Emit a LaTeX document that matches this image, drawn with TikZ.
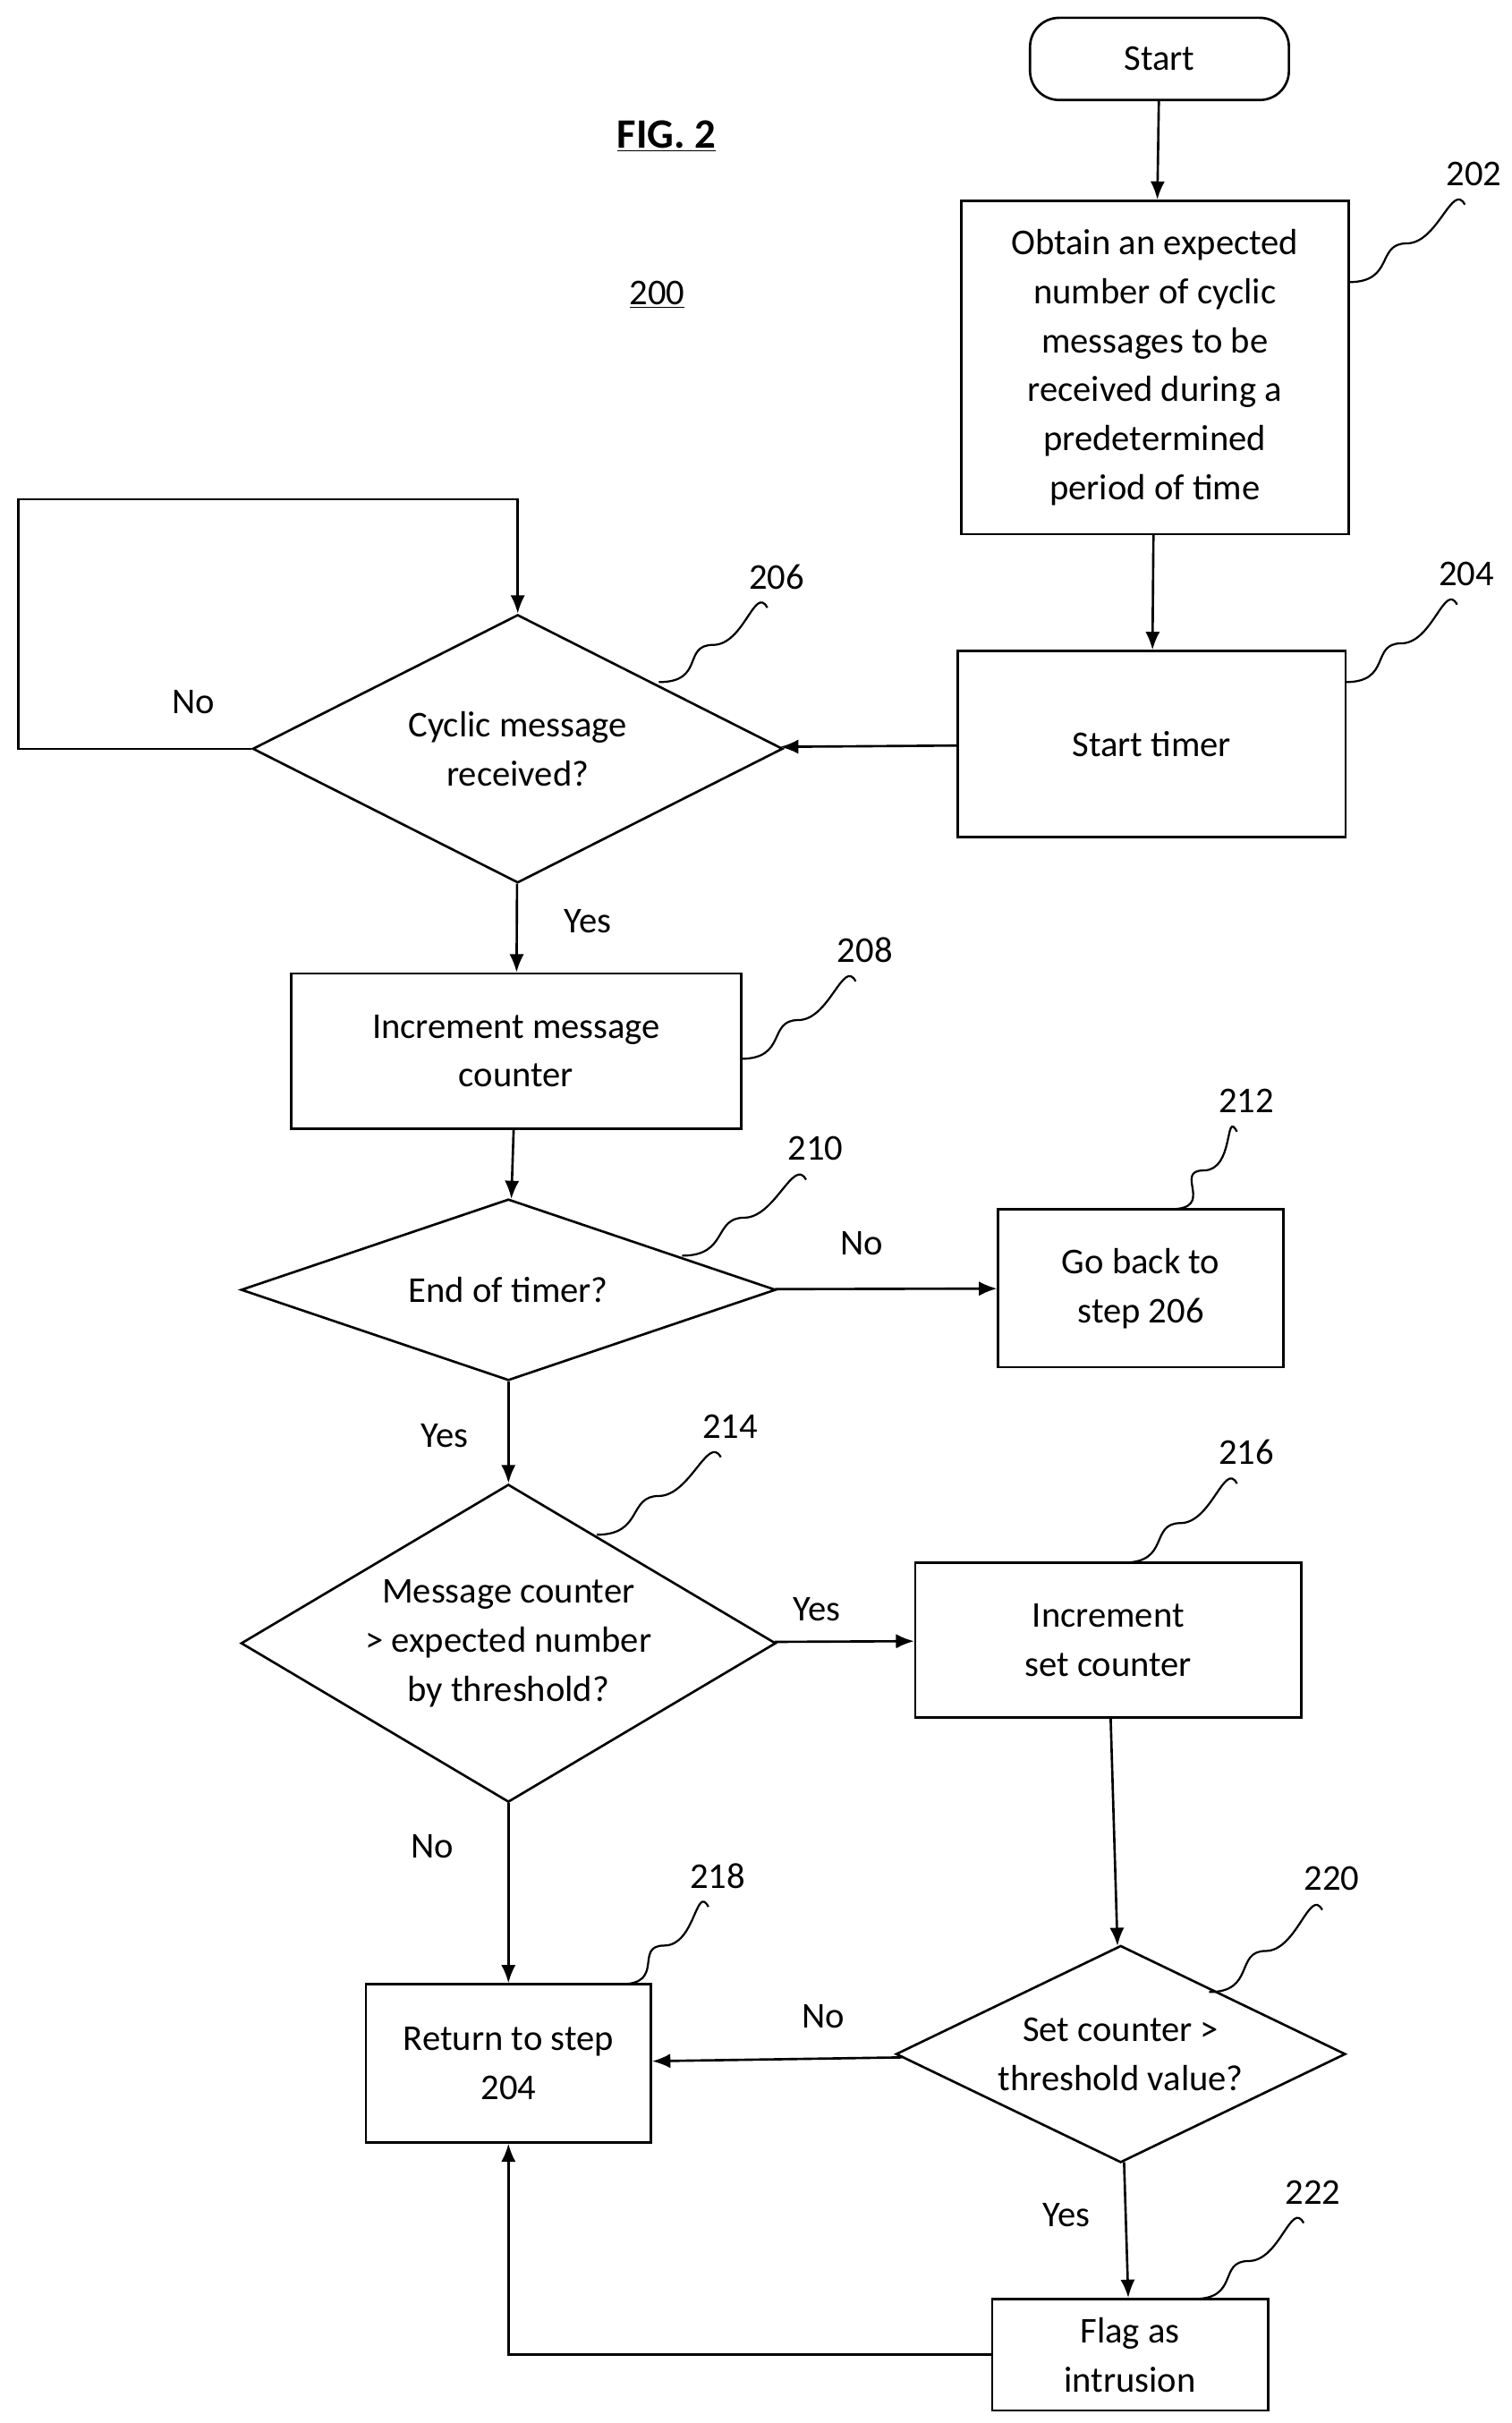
\documentclass[tikz,border=0pt]{standalone}
\usepackage{fontspec}
\setmainfont{Carlito}
\usetikzlibrary{shapes.geometric,calc,arrows.meta}
\tikzset{
  box/.style={draw,line width=1.3pt,align=center,inner sep=2pt},
  dia/.style={draw,line width=1.3pt,diamond,inner sep=0pt},
  txt/.style={align=center},
  link/.style={line width=1.3pt,->},
}
\newcommand{\refnum}[3]{\draw[line width=1.1pt] #1 .. controls +(30,0) and +(-20,0) .. ($#1!0.5!#2$) .. controls +(20,0) and +(-8,-15) .. #2;
  \node at ($#2+(6,-20)$) {#3};}
\begin{document}
\begin{tikzpicture}[>={Latex[length=10pt,width=8pt]},x=0.03cm,y=-0.03cm,font=\fontsize{20}{27}\selectfont]
\useasboundingbox (0,0) rectangle (975,1563);

\node[font=\bfseries\fontsize{23}{28}\selectfont] (fig) at (430,88) {\underline{FIG. 2}};
\node (num) at (424,190) {\underline{200}};

\node[box,rounded corners=16pt,minimum width=5.01cm,minimum height=1.59cm] (start) at (748,38) {Start};
\node[box,minimum width=7.5cm,minimum height=6.45cm] (n202) at (745,237) {Obtain an expected\\number of cyclic\\messages to be\\received during a\\predetermined\\period of time};
\node[box,minimum width=7.5cm,minimum height=3.6cm] (n204) at (743,480) {Start timer};
\node[dia,minimum width=10.26cm,minimum height=5.19cm] (n206) at (334,483) {};
\node[txt] (n206t) at (n206) {Cyclic message\\received?};
\node[box,minimum width=8.7cm,minimum height=3cm] (n208) at (333,678) {Increment message\\counter};
\node[dia,minimum width=10.35cm,minimum height=3.51cm] (n210) at (328,832) {};
\node[txt] (n210t) at (n210) {End of timer?};
\node[box,minimum width=5.52cm,minimum height=3.06cm] (n212) at (736,831) {Go back to\\step 206};
\node[dia,minimum width=10.35cm,minimum height=6.15cm] (n214) at (328,1060) {};
\node[txt] (n214t) at (n214) {Message counter\\> expected number\\by threshold?};
\node[box,minimum width=7.47cm,minimum height=3cm] (n216) at (715,1058) {Increment\\set counter};
\node[box,minimum width=5.52cm,minimum height=3.06cm] (n218) at (328,1331) {Return to step\\204};
\node[dia,minimum width=8.7cm,minimum height=4.2cm] (n220) at (723,1325) {};
\node[txt] (n220t) at (n220) {Set counter >\\threshold value?};
\node[box,minimum width=5.34cm,minimum height=2.16cm] (n222) at (729,1519) {Flag as\\intrusion};
\coordinate (loop) at (12,322);

% connectors
\draw[link] (start) -- (n202);
\draw[link] (n202) -- (n204);
\draw[link] (n204) -- (n206);
\draw[link] (n206.west) -| (loop) -| (n206.north);
\draw[link] (n206) -- (n208);
\draw[link] (n208) -- (n210);
\draw[link] (n210) -- (n212);
\draw[link] (n210) -- (n214);
\draw[link] (n214) -- (n216);
\draw[link] (n214) -- (n218);
\draw[link] (n216) -- (n220);
\draw[link] (n220) -- (n218);
\draw[link] (n220) -- (n222);
\draw[link] (n222.west) -| (n218.south);

% labels
\node (l1) at (125,453) {No};
\node (l2) at (379,594) {Yes};
\node (l3) at (556,802) {No};
\node (l4) at (287,926) {Yes};
\node (l5) at (527,1038) {Yes};
\node (l6) at (279,1191) {No};
\node (l7) at (531,1301) {No};
\node (l8) at (688,1429) {Yes};

% reference numbers
\refnum{(870,182)}{(945,132)}{202}
\refnum{(868,440)}{(940,390)}{204}
\refnum{(425,440)}{(495,392)}{206}
\refnum{(478,683)}{(552,633)}{208}
\refnum{(440,810)}{(520,761)}{210}
\refnum{(755,780)}{(798,730)}{212}
\refnum{(385,990)}{(465,940)}{214}
\refnum{(725,1008)}{(798,957)}{216}
\refnum{(400,1280)}{(457,1230)}{218}
\refnum{(780,1285)}{(853,1232)}{220}
\refnum{(770,1483)}{(841,1434)}{222}
\end{tikzpicture}
\end{document}
